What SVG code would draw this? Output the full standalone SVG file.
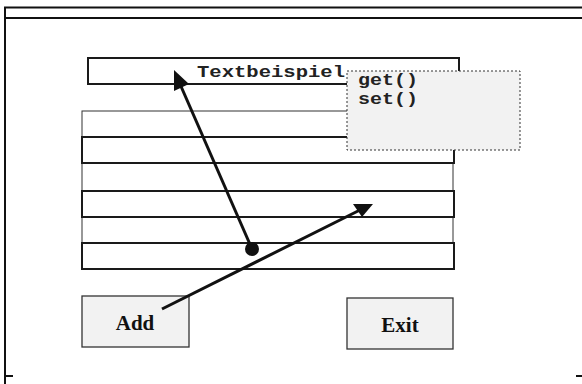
<svg xmlns="http://www.w3.org/2000/svg" width="582" height="384" viewBox="0 0 582 384">
<style>
.frame{stroke:#111;stroke-width:2;fill:none}
.thick{fill:#fff;stroke:#1a1a1a;stroke-width:2}
.thin{fill:#fff;stroke:#333;stroke-width:1}
.btn{fill:#f2f2f2;stroke:#333;stroke-width:1.3}
.mono{font-family:"Liberation Mono","DejaVu Sans Mono",monospace;font-weight:bold;fill:#222}
.serif{font-family:"Liberation Serif","Times New Roman",serif;font-weight:bold;fill:#111;font-size:21px}
.conn{stroke:#111;stroke-width:3;fill:none}
</style>
<g id="frame">
<line class="frame" x1="5" y1="7" x2="5" y2="384"/>
<line class="frame" x1="4" y1="7.5" x2="582" y2="7.5"/>
<line class="frame" x1="5" y1="18" x2="582" y2="18"/>
<line class="frame" x1="4" y1="376" x2="13" y2="376"/>
<line class="frame" x1="576" y1="376" x2="582" y2="376"/>
</g>
<g id="textfield">
<rect class="thick" x="88" y="58" width="371" height="26"/>
<text class="mono" x="197" y="77" font-size="17" textLength="148" lengthAdjust="spacingAndGlyphs">Textbeispiel</text>
</g>
<g id="list">
<rect class="thin" x="82" y="111" width="371" height="158"/>
<rect class="thick" x="82" y="137" width="372" height="26"/>
<rect class="thick" x="82" y="191" width="372" height="26"/>
<rect class="thick" x="82" y="243" width="372" height="26"/>
</g>
<g id="popup">
<rect x="347" y="71" width="173" height="79" fill="#f2f2f2" stroke="#333" stroke-width="1" stroke-dasharray="2,2"/>
<text class="mono" x="358" y="85" font-size="17" textLength="60" lengthAdjust="spacingAndGlyphs">get()</text>
<text class="mono" x="358" y="104" font-size="17" textLength="60" lengthAdjust="spacingAndGlyphs">set()</text>
</g>
<g id="add">
<rect class="btn" x="82" y="296" width="107" height="51"/>
<text class="serif" x="135" y="330" text-anchor="middle">Add</text>
</g>
<g id="exit">
<rect class="btn" x="347" y="298" width="106" height="51"/>
<text class="serif" x="400" y="332" text-anchor="middle">Exit</text>
</g>
<g id="connectors">
<line class="conn" x1="252" y1="249" x2="180" y2="84"/>
<polygon points="174,70 174,91 189,84" fill="#111"/>
<circle cx="252" cy="249" r="7" fill="#111"/>
<line class="conn" x1="162" y1="309" x2="360" y2="210"/>
<polygon points="353,204 373,204 362,217" fill="#111"/>
</g>
</svg>
